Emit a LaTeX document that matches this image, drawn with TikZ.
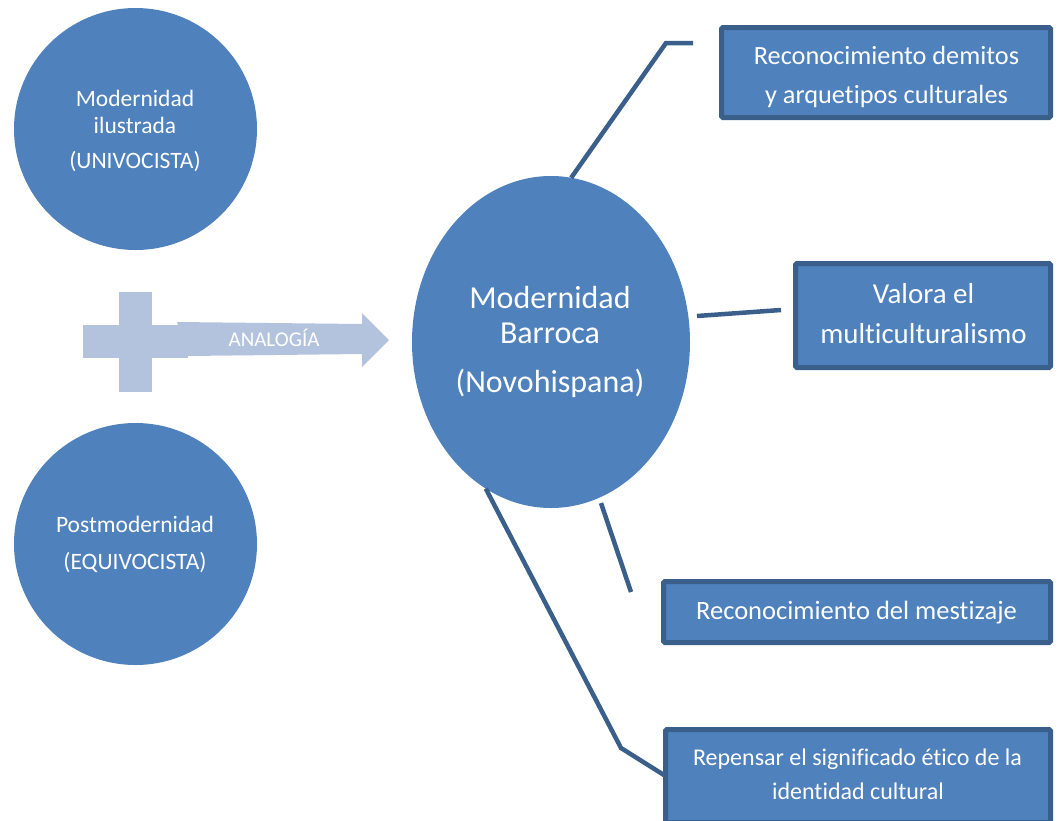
\documentclass[tikz,border=0pt]{standalone}
\usepackage{fontspec}
\setmainfont{Carlito}[Ligatures=NoCommon]
\usetikzlibrary{shapes.geometric}
\definecolor{fillblue}{HTML}{4F81BD}
\definecolor{edgeblue}{HTML}{3A5F8B}
\definecolor{lightblue}{HTML}{B3C3DE}
\begin{document}
\begin{tikzpicture}[x=1pt,y=-1pt,
  blob/.style={ellipse, fill=fillblue, inner sep=0pt, outer sep=0pt},
  box/.style={rectangle, fill=fillblue, draw=edgeblue, line width=5pt, rounded corners=1.5pt, inner sep=0pt, outer sep=0pt},
  conn/.style={draw=edgeblue, line width=4.5pt},
  txt/.style={text=white, inner sep=0pt, anchor=mid},
  fa/.style={font=\fontsize{23.5}{28}\selectfont},
  fb/.style={font=\fontsize{32}{38}\selectfont},
]
\useasboundingbox (0,0) rectangle (1061,820);
\clip (0,0) rectangle (1061,820);

% left circles
\node[blob, minimum width=243pt, minimum height=242pt] (c1) at (135.5,129) {};
\node[blob, minimum width=243pt, minimum height=242pt] (c2) at (135.5,544) {};
% central ellipse
\node[blob, minimum width=278pt, minimum height=332pt] (big) at (551,342) {};

% plus and arrow
\fill[lightblue] (119,292) rectangle (152,392);
\fill[lightblue] (83,325) rectangle (188,358);
\fill[lightblue] (177,322) -- (362,324) -- (362,313) -- (389,340) -- (362,367) -- (362,354) -- (188,356) -- cycle;
\node[txt, font=\fontsize{21}{25}\selectfont] (ana) at (274,344) {ANALOGÍA};

% boxes
\node[box, minimum width=329pt, minimum height=90pt] (b1) at (886,72.5) {};
\node[box, minimum width=255pt, minimum height=104pt] (b2) at (923,315.5) {};
\node[box, minimum width=387pt, minimum height=61pt] (b3) at (857,612) {};
\node[box, minimum width=385pt, minimum height=93pt] (b4) at (858,776) {};

% connector points
\coordinate (k1) at (666,43);
\coordinate (e1) at (693,43);
\coordinate (s2) at (697,316);
\coordinate (e2) at (781,310);
\coordinate (s3) at (601,503);
\coordinate (e3) at (631,592);
\coordinate (k4) at (621,748);

\draw[conn] (big.83) -- (k1) -- (e1);
\draw[conn] (s2) -- (e2);
\draw[conn] (s3) -- (e3);
\draw[conn] (big.246) -- (k4) -- (b4.west);

% texts
\node[txt, fa] (t1a) at (135,104) {Modernidad};
\node[txt, fa] (t1b) at (135,131) {ilustrada};
\node[txt, fa] (t1c) at (135,166.5) {(UNIVOCISTA)};
\node[txt, fa] (t2a) at (135,530.5) {Postmodernidad};
\node[txt, fa] (t2b) at (135,567) {(EQUIVOCISTA)};
\node[txt, fb] (t3a) at (550,306) {Modernidad};
\node[txt, fb] (t3b) at (550,341) {Barroca};
\node[txt, fb] (t3c) at (550,390) {(Novohispana)};
\node[txt, font=\fontsize{26.3}{31}\selectfont] (tb1a) at (886.5,62.5) {Reconocimiento demitos};
\node[txt, font=\fontsize{26.3}{31}\selectfont] (tb1b) at (886.5,101) {y arquetipos culturales};
\node[txt, font=\fontsize{28.9}{34}\selectfont] (tb2a) at (923.5,301) {Valora el};
\node[txt, font=\fontsize{28.9}{34}\selectfont] (tb2b) at (923.5,341.5) {multiculturalismo};
\node[txt, font=\fontsize{26.5}{31}\selectfont] (tb3) at (856.5,617.5) {Reconocimiento del mestizaje};
\node[txt, font=\fontsize{24}{29}\selectfont] (tb4a) at (857.5,763) {Repensar el significado ético de la};
\node[txt, font=\fontsize{24}{29}\selectfont] (tb4b) at (858,797) {identidad cultural};
\end{tikzpicture}
\end{document}
